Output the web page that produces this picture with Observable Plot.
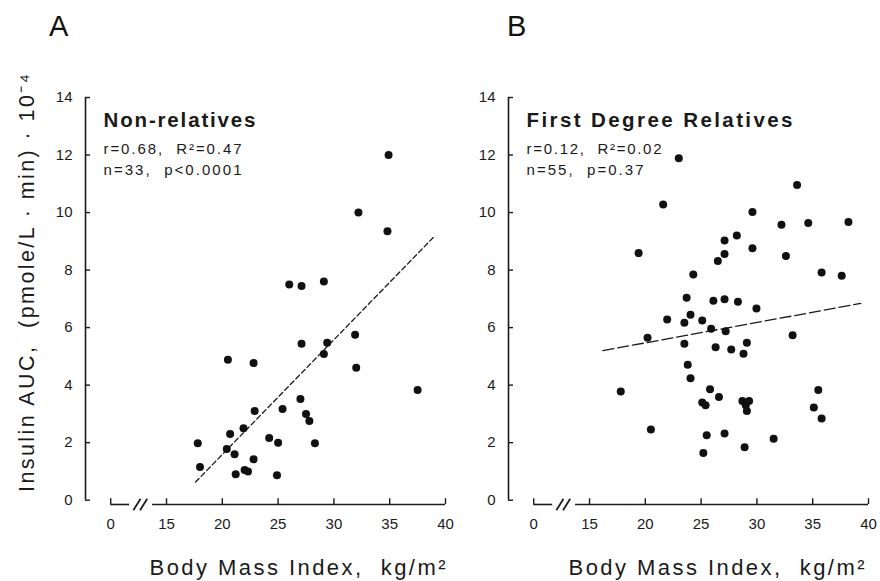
<!DOCTYPE html>
<html>
<head>
<meta charset="utf-8">
<script src="https://cdn.jsdelivr.net/npm/d3@7"></script>
<script src="https://cdn.jsdelivr.net/npm/@observablehq/plot@0.6"></script>
<style>
  body { margin: 0; background: #fff; }
  #wrap { position: relative; width: 880px; height: 581px; overflow: hidden; background: #fff;
          font-family: "Liberation Sans", Arial, sans-serif; color: #1a1a1a; }
  .panel { position: absolute; top: 0; }
  .letter { position: absolute; top: 12px; font-size: 29px; line-height: 1; color: #111; }
</style>
</head>
<body>
<div id="wrap">
  <div class="letter" id="letterA" style="left:49px">A</div>
  <div class="letter" id="letterB" style="left:507px">B</div>
  <div class="panel" id="panelA" style="left:0px"></div>
  <div class="panel" id="panelB" style="left:460px"></div>
</div>
<script>
// ---------- data ----------
const bmiA = [34.9, 32.2, 34.8, 26.0, 27.1, 29.1, 31.9, 27.1, 29.4, 29.1, 32.0, 20.5, 22.8, 37.5, 27.0, 22.9, 25.4,
              27.5, 27.8, 17.8, 20.7, 21.9, 24.2, 25.0, 28.3, 20.4, 21.1, 18.0, 22.8, 21.2, 22.0, 22.3, 24.9];
const aucA = [12.0, 10.0, 9.35, 7.5, 7.45, 7.6, 5.75, 5.44, 5.47, 5.08, 4.6, 4.88, 4.77, 3.83, 3.52, 3.1, 3.17,
              3.0, 2.75, 1.98, 2.3, 2.5, 2.16, 2.0, 1.98, 1.78, 1.6, 1.15, 1.42, 0.9, 1.05, 1.0, 0.87];

const bmiB = [23.0, 21.6, 19.4, 33.6, 29.6, 32.2, 34.6, 38.2, 28.2, 27.1, 27.1, 26.5, 29.6, 32.6, 24.3, 35.8, 37.6,
              23.7, 26.1, 27.1, 28.3, 29.96, 21.96, 23.5, 24.05, 25.1, 25.9, 27.2, 20.2, 33.2, 23.5, 26.3, 27.7,
              29.1, 28.8, 23.8, 24.05, 17.8, 25.8, 26.6, 25.1, 25.4, 28.7, 29.3, 29.0, 29.1, 35.5, 35.1, 35.8,
              20.5, 25.5, 27.1, 31.5, 28.9, 25.2];
const aucB = [11.89, 10.28, 8.59, 10.96, 10.02, 9.58, 9.64, 9.67, 9.2, 9.03, 8.56, 8.32, 8.76, 8.49, 7.85, 7.92, 7.8,
              7.04, 6.93, 6.99, 6.9, 6.66, 6.28, 6.17, 6.45, 6.25, 5.96, 5.87, 5.65, 5.73, 5.44, 5.32, 5.24,
              5.47, 5.09, 4.71, 4.24, 3.78, 3.86, 3.59, 3.40, 3.30, 3.45, 3.45, 3.3, 3.1, 3.83, 3.22, 2.84,
              2.46, 2.26, 2.32, 2.14, 1.84, 1.64];

// regression lines (end points as drawn)
const fitA_bmi = [17.6, 38.9];
const fitA_auc = [0.63, 9.13];
const fitB_bmi = [16.2, 39.3];
const fitB_auc = [5.2, 6.84];

// axes
const yTicks = [0, 2, 4, 6, 8, 10, 12, 14];
const xTicks = [10, 15, 20, 25, 30, 35, 40];          // 10 stands for the broken-axis "0"
const xTickLabels = ["0", "15", "20", "25", "30", "35", "40"];
const xBreakLeft = [10, 11.7];                          // short stub before the break
const xBreakMarks = [12.35, 12.95];                     // the "//" symbol
const xAxisMain = [13.75, 40];

// texts
const titles = ["Non-relatives", "First Degree Relatives"];
const statsA = ["r=0.68,  R²=0.47", "n=33,  p<0.0001"];
const statsB = ["r=0.12,  R²=0.02", "n=55,  p=0.37"];
const xLabel = "Body Mass Index,  kg/m²";
const yLabel = "Insulin AUC,  (pmole/L · min) · 10⁻⁴";

// ---------- styling ----------
const INK = "#1a1a1a";
const FONT = "'Liberation Sans', Arial, sans-serif";
const xDomain = [7.74, 40];
const yDomain = [-0.15, 14];
// widths (px) of the wide-tracked lettering of the original
const textWidths = new Map([
  [titles[0], 152], [titles[1], 266],
  [statsA[0], 138], [statsA[1], 138], [statsB[0], 135], [statsB[1], 117],
  [xLabel, 296], [yLabel, 418]
]);

function panel({bmi, auc, fitX, fitY, title, stats, marginLeft, marginRight, width, dashes, showYLabel, xLabelDx}) {
  const pts = bmi.map((b, i) => ({bmi: b, auc: auc[i]}));
  const fit = fitX.map((b, i) => ({bmi: b, auc: fitY[i]}));
  const xMin = xDomain[0], yMin = yDomain[0];
  const marks = [
    Plot.ruleX([xMin], {y1: 0, y2: 14, stroke: INK, strokeWidth: 1.6}),
    Plot.ruleY(yTicks, {x1: xMin, x2: xMin + 0.45, stroke: INK, strokeWidth: 1.4}),
    Plot.axisY(yTicks, {tickSize: 0, tickPadding: 13, fontSize: 15, fill: INK, label: null}),
    Plot.ruleY([yMin], {x1: xBreakLeft[0], x2: xBreakLeft[1], stroke: INK, strokeWidth: 1.6}),
    Plot.ruleY([yMin], {x1: xAxisMain[0], x2: xAxisMain[1], stroke: INK, strokeWidth: 1.6}),
    Plot.ruleX(xTicks, {y1: yMin, y2: yMin + 0.2, stroke: INK, strokeWidth: 1.4}),
    Plot.link(xBreakMarks, {x1: d => d - 0.32, x2: d => d + 0.32, y1: yMin - 0.2, y2: yMin + 0.2,
                            stroke: INK, strokeWidth: 1.8}),
    Plot.axisX(xTicks, {tickSize: 0, tickPadding: 14, fontSize: 15, fill: INK, label: null,
                        tickFormat: d => xTickLabels[xTicks.indexOf(d)]}),
    Plot.line(fit, {x: "bmi", y: "auc", stroke: INK, strokeWidth: 1.3, strokeDasharray: dashes}),
    Plot.dot(pts, {x: "bmi", y: "auc", r: 4, fill: "#111", stroke: "none"}),
    Plot.text([title], {frameAnchor: "top-left", dx: 18, dy: 23, textAnchor: "start",
                        lineAnchor: "middle", fontSize: 20.5, fontWeight: "bold", fill: INK}),
    Plot.text([stats[0]], {frameAnchor: "top-left", dx: 18, dy: 52, textAnchor: "start",
                        lineAnchor: "middle", fontSize: 15, fill: INK}),
    Plot.text([stats[1]], {frameAnchor: "top-left", dx: 18, dy: 73, textAnchor: "start",
                        lineAnchor: "middle", fontSize: 15, fill: INK}),
    Plot.text([xLabel], {frameAnchor: "bottom", dx: xLabelDx, dy: 63, textAnchor: "middle",
                         lineAnchor: "middle", fontSize: 22, fill: INK})
  ];
  if (showYLabel) {
    marks.push(Plot.text([yLabel], {frameAnchor: "left", dx: -58, dy: -18, rotate: -90,
                         textAnchor: "middle", lineAnchor: "middle", fontSize: 21.5, fill: INK}));
  }
  const svg = Plot.plot({
    width, height: 581,
    marginLeft, marginRight, marginTop: 97, marginBottom: 77,
    style: {fontFamily: FONT, background: "transparent", overflow: "visible"},
    x: {domain: xDomain, axis: null},
    y: {domain: yDomain, axis: null},
    marks
  });
  svg.querySelectorAll("text").forEach(t => {
    const w = textWidths.get(t.textContent);
    if (w) {
      t.setAttribute("textLength", w);
      t.setAttribute("lengthAdjust", "spacing");
    }
  });
  return svg;
}

document.getElementById("panelA").append(panel({
  bmi: bmiA, auc: aucA, fitX: fitA_bmi, fitY: fitA_auc, title: titles[0], stats: statsA,
  marginLeft: 85, marginRight: 15, width: 460, dashes: "5,3", showYLabel: true, xLabelDx: 32
}));
document.getElementById("panelB").append(panel({
  bmi: bmiB, auc: aucB, fitX: fitB_bmi, fitY: fitB_auc, title: titles[1], stats: statsB,
  marginLeft: 48, marginRight: 12, width: 420, dashes: "11,4", showYLabel: false, xLabelDx: 28
}));
</script>
</body>
</html>
